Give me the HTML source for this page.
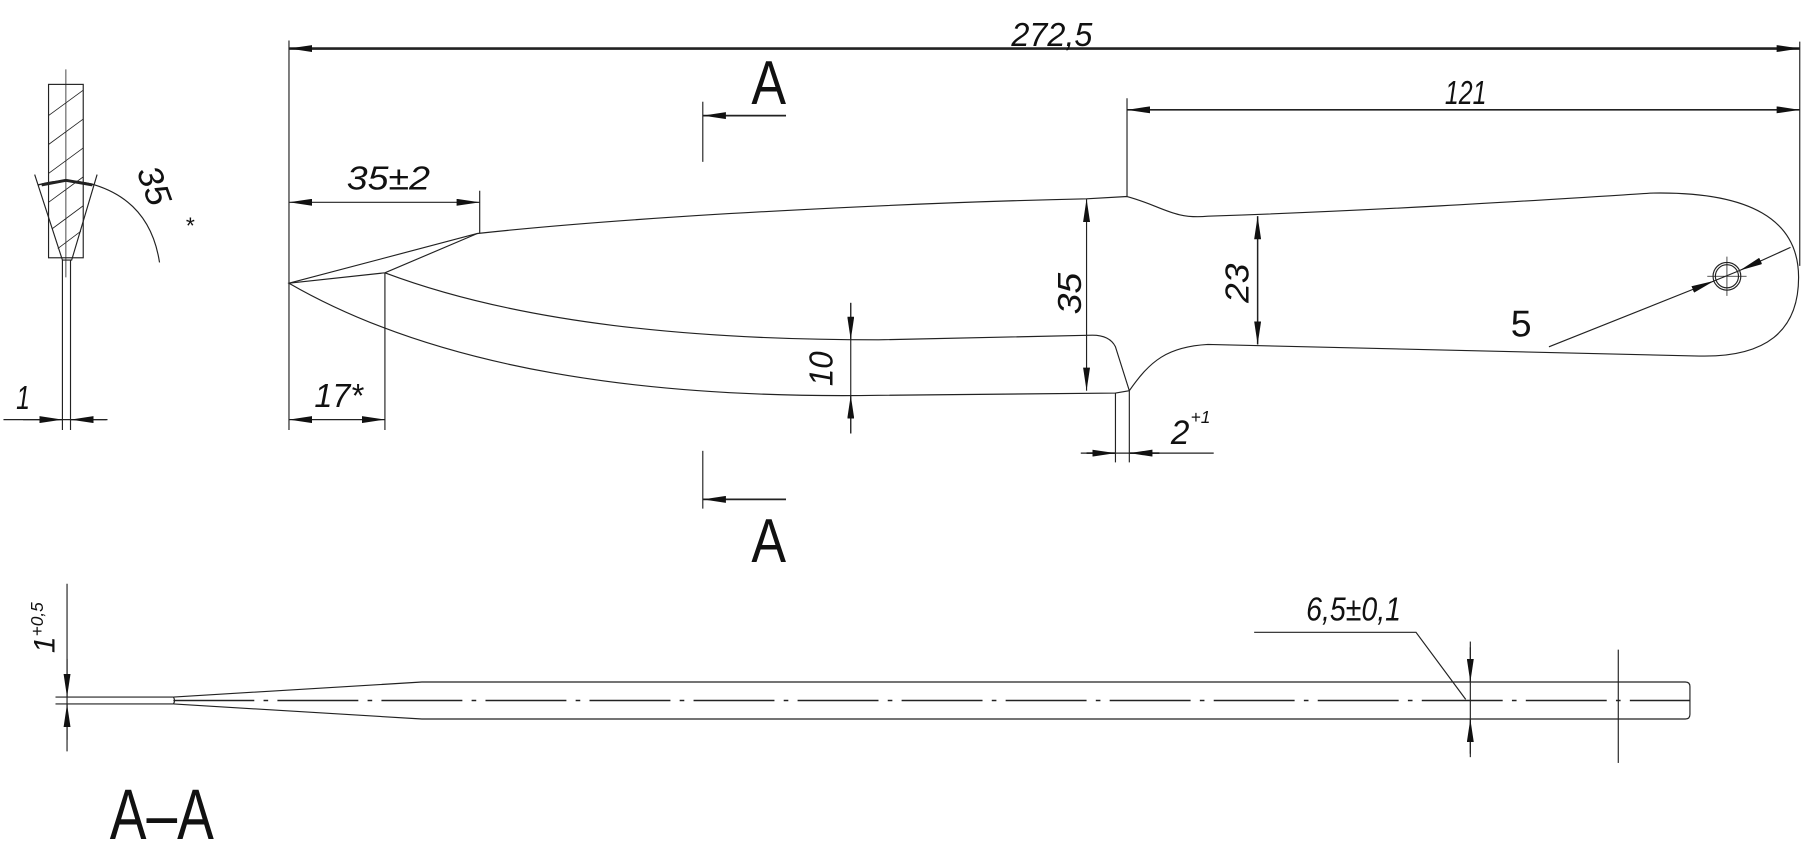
<!DOCTYPE html>
<html><head><meta charset="utf-8"><style>html,body{margin:0;padding:0;background:#fff}svg{display:block}
text{font-family:"Liberation Sans",sans-serif;fill:#111}
.it{font-style:italic}</style></head><body>
<svg width="1809" height="842" viewBox="0 0 1565 728.4" preserveAspectRatio="none" xmlns="http://www.w3.org/2000/svg">
<defs>
<marker id="a" viewBox="0 0 20 6" refX="20" refY="3" markerWidth="20" markerHeight="6" markerUnits="userSpaceOnUse" orient="auto"><path d="M0,0 L20,3 L0,6 Z" fill="#111"/></marker>
<marker id="b" viewBox="0 0 20 6" refX="0" refY="3" markerWidth="20" markerHeight="6" markerUnits="userSpaceOnUse" orient="auto"><path d="M20,0 L0,3 L20,6 Z" fill="#111"/></marker>
</defs>
<g fill="none" stroke="#222" stroke-width="1">
<line x1="250" y1="35" x2="250" y2="372"/>
<line x1="1557" y1="36" x2="1557" y2="230"/>
<line x1="250" y1="42" x2="1557" y2="42" stroke-width="2.2" marker-start="url(#b)" marker-end="url(#a)"/>
<line x1="975" y1="85" x2="975" y2="170"/>
<line x1="975" y1="95" x2="1557" y2="95" stroke-width="1.5" marker-start="url(#b)" marker-end="url(#a)"/>
<line x1="608" y1="88" x2="608" y2="140"/>
<line x1="680" y1="100" x2="608" y2="100" stroke-width="1.5" marker-end="url(#a)"/>
<line x1="608" y1="390" x2="608" y2="440"/>
<line x1="680" y1="432" x2="608" y2="432" stroke-width="1.5" marker-end="url(#a)"/>
<path d="M250,245 L413,202 C560,186 800,175 940,172 L975,170 C1005,178 1015,190 1045,187 C1200,182 1350,172 1430,167 Q1556,165 1556,240 Q1556,310 1470,308 C1350,305 1200,302 1045,298 C1010,300 995,312 977,338 L965,340 L760,342 C560,345 380,320 250,245 Z"/>
<path d="M250,245 L333,236 L413,202"/>
<path d="M333,236 C450,280 600,294 760,294 L945,290 Q960,290 965,300 L977,338"/>
<circle cx="1494" cy="239" r="12"/>
<circle cx="1494" cy="239" r="10"/>
<line x1="1494" y1="222" x2="1494" y2="256" stroke-width="0.7"/>
<line x1="1477" y1="239" x2="1511" y2="239" stroke-width="0.7"/>
<line x1="1340" y1="300" x2="1483" y2="243" marker-end="url(#a)"/>
<line x1="1549" y1="214" x2="1505" y2="234" marker-end="url(#a)"/>
<line x1="1483" y1="243" x2="1505" y2="234"/>
<line x1="940" y1="172" x2="940" y2="338" marker-start="url(#b)" marker-end="url(#a)"/>
<line x1="1088" y1="187" x2="1088" y2="298" stroke-width="1.3" marker-start="url(#b)" marker-end="url(#a)"/>
<line x1="736" y1="262" x2="736" y2="375"/>
<line x1="736" y1="262" x2="736" y2="294" marker-end="url(#a)"/>
<line x1="736" y1="375" x2="736" y2="342" marker-end="url(#a)"/>
<line x1="965" y1="340" x2="965" y2="400"/>
<line x1="977" y1="338" x2="977" y2="400"/>
<line x1="935" y1="392" x2="1050" y2="392"/>
<line x1="940" y1="392" x2="965" y2="392" stroke-width="1.5" marker-end="url(#a)"/>
<line x1="1003" y1="392" x2="977" y2="392" stroke-width="1.5" marker-end="url(#a)"/>
<line x1="415" y1="165" x2="415" y2="202"/>
<line x1="250" y1="175" x2="415" y2="175" marker-start="url(#b)" marker-end="url(#a)"/>
<line x1="333" y1="236" x2="333" y2="372"/>
<line x1="250" y1="363" x2="333" y2="363" marker-start="url(#b)" marker-end="url(#a)"/>
<rect x="42" y="73" width="30" height="150"/>
<line x1="57" y1="60" x2="57" y2="240" stroke-width="0.7"/>
<path d="M30,151 L54,225 L62,225 L84,151"/>
<line x1="54" y1="225" x2="54" y2="372"/>
<line x1="61" y1="225" x2="61" y2="372"/>
<g stroke-width="0.7"><line x1="42" y1="100" x2="72" y2="78"/><line x1="42" y1="125" x2="72" y2="103"/><line x1="42" y1="150" x2="72" y2="128"/><line x1="42" y1="175" x2="72" y2="153"/><line x1="45" y1="198" x2="72" y2="178"/><line x1="50" y1="215" x2="70" y2="200"/></g>
<path d="M33,160 Q57,153 82,160" stroke-width="1.2"/>
<path d="M57,156 L36,160" stroke-width="2.5"/><path d="M57,156 L80,160" stroke-width="2.5"/>
<path d="M82,160 Q130,175 138,227"/>
<line x1="3" y1="363" x2="93" y2="363"/>
<line x1="20" y1="363" x2="54" y2="363" marker-end="url(#a)"/>
<line x1="92" y1="363" x2="61" y2="363" marker-end="url(#a)"/>
<path d="M48,603 L150,603 M48,609 L150,609"/>
<path d="M150,603 Q152,606 150,609"/>
<path d="M150,603 L365,590 L1458,590 Q1462,590 1462,594 L1462,618 Q1462,622 1458,622 L365,622 L150,609"/>
<line x1="150" y1="606" x2="1462" y2="606" stroke-width="1.3" stroke-dasharray="70,8,4,8"/>
<line x1="58" y1="505" x2="58" y2="650"/>
<line x1="58" y1="570" x2="58" y2="603" marker-end="url(#a)"/>
<line x1="58" y1="640" x2="58" y2="609" marker-end="url(#a)"/>
<line x1="1272" y1="555" x2="1272" y2="655"/>
<line x1="1272" y1="560" x2="1272" y2="590" marker-end="url(#a)"/>
<line x1="1272" y1="652" x2="1272" y2="622" marker-end="url(#a)"/>
<path d="M1085,547 L1225,547 L1268,605"/>
<line x1="1400" y1="562" x2="1400" y2="660"/>
</g>
<g class="it">
<text x="875" y="40" font-size="29" textLength="70" lengthAdjust="spacingAndGlyphs">272,5</text>
<text x="1250" y="90" font-size="29" textLength="36" lengthAdjust="spacingAndGlyphs">121</text>
<text x="300" y="164" font-size="29" textLength="72" lengthAdjust="spacingAndGlyphs">35±2</text>
<text x="272" y="352" font-size="29" textLength="42" lengthAdjust="spacingAndGlyphs">17*</text>
<text x="14" y="354" font-size="29" textLength="12" lengthAdjust="spacingAndGlyphs">1</text>
<text x="1013" y="384" font-size="30" textLength="16" lengthAdjust="spacingAndGlyphs">2</text>
<text x="1030" y="366" font-size="15">+1</text>
<text x="1130" y="537" font-size="29" textLength="82" lengthAdjust="spacingAndGlyphs">6,5±0,1</text>
<text font-size="29" textLength="36" lengthAdjust="spacingAndGlyphs" transform="translate(935,272) rotate(-90)">35</text>
<text font-size="29" textLength="34" lengthAdjust="spacingAndGlyphs" transform="translate(1080,262) rotate(-90)">23</text>
<text font-size="29" textLength="30" lengthAdjust="spacingAndGlyphs" transform="translate(720,334) rotate(-90)">10</text>
<text font-size="26" transform="translate(47,565) rotate(-90)">1<tspan font-size="15" dy="-10">+0,5</tspan></text>
<text font-size="30" textLength="34" lengthAdjust="spacingAndGlyphs" transform="translate(118,148) rotate(70)">35</text>
<text x="160" y="202" font-size="20">*</text>
<text x="1307" y="291" font-size="32" font-style="normal" textLength="18" lengthAdjust="spacingAndGlyphs">5</text>
</g>
<text x="650" y="90" font-size="54" textLength="30" lengthAdjust="spacingAndGlyphs">A</text>
<text x="650" y="486" font-size="54" textLength="30" lengthAdjust="spacingAndGlyphs">A</text>
<text x="95" y="726" font-size="62" textLength="90" lengthAdjust="spacingAndGlyphs">A–A</text>
</svg>
</body></html>
